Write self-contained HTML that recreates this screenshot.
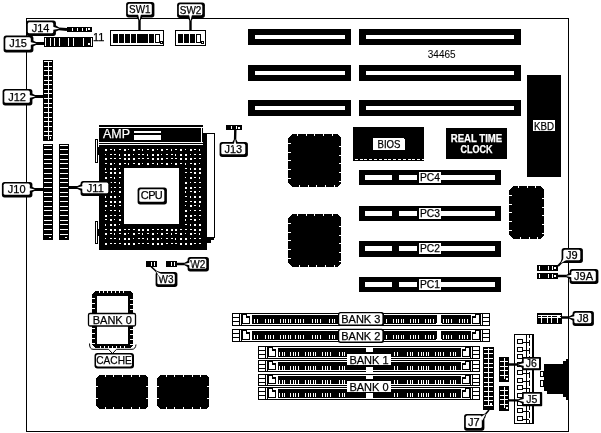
<!DOCTYPE html>
<html><head><meta charset="utf-8"><title>Motherboard layout</title>
<style>
html,body{margin:0;padding:0;background:#fff;}
body{width:601px;height:433px;overflow:hidden;}
svg{display:block;font-family:"Liberation Sans",sans-serif;will-change:transform;}
svg rect,svg polygon,svg line{shape-rendering:crispEdges;}
svg .aa rect,svg .aa polygon,svg .aa line,svg .aa path{shape-rendering:auto;}
</style></head>
<body>
<svg width="601" height="433" viewBox="0 0 601 433">
<rect x="0" y="0" width="601" height="433" fill="#fff"/>
<rect x="26.5" y="18.5" width="542" height="413" fill="none" stroke="#000" stroke-width="1"/>
<rect x="67" y="27" width="25" height="5" fill="#000"/>
<rect x="72" y="28" width="1" height="3" fill="#fff"/>
<rect x="77" y="28" width="1" height="3" fill="#fff"/>
<rect x="82" y="28" width="1" height="3" fill="#fff"/>
<rect x="86" y="28" width="1" height="3" fill="#fff"/>
<rect x="88" y="28" width="2" height="2" fill="#fff"/>
<rect x="44" y="37" width="49" height="10" fill="#000"/>
<rect x="45" y="38" width="1" height="8" fill="#fff"/>
<rect x="91" y="38" width="1" height="8" fill="#fff"/>
<rect x="50" y="38" width="1" height="8" fill="#fff"/>
<rect x="54" y="38" width="1" height="8" fill="#fff"/>
<rect x="59" y="38" width="1" height="8" fill="#fff"/>
<rect x="68" y="38" width="1" height="8" fill="#fff"/>
<rect x="73" y="38" width="1" height="8" fill="#fff"/>
<rect x="83" y="38" width="1" height="8" fill="#fff"/>
<rect x="88" y="43" width="2" height="2" fill="#fff"/>
<text x="93" y="41" font-size="11" text-anchor="start" fill="#000" stroke="#000" stroke-width="0.25" font-weight="normal" >11</text>
<rect x="43" y="60" width="10" height="81" fill="#000"/>
<rect x="44" y="61" width="8" height="1" fill="#fff"/>
<rect x="44" y="66" width="8" height="1" fill="#fff"/>
<rect x="44" y="70" width="8" height="1" fill="#fff"/>
<rect x="44" y="75" width="8" height="1" fill="#fff"/>
<rect x="44" y="80" width="8" height="1" fill="#fff"/>
<rect x="44" y="84" width="8" height="1" fill="#fff"/>
<rect x="44" y="89" width="8" height="1" fill="#fff"/>
<rect x="44" y="93" width="8" height="1" fill="#fff"/>
<rect x="44" y="98" width="8" height="1" fill="#fff"/>
<rect x="44" y="103" width="8" height="1" fill="#fff"/>
<rect x="44" y="107" width="8" height="1" fill="#fff"/>
<rect x="44" y="112" width="8" height="1" fill="#fff"/>
<rect x="44" y="117" width="8" height="1" fill="#fff"/>
<rect x="44" y="121" width="8" height="1" fill="#fff"/>
<rect x="44" y="126" width="8" height="1" fill="#fff"/>
<rect x="44" y="131" width="8" height="1" fill="#fff"/>
<rect x="44" y="135" width="8" height="1" fill="#fff"/>
<rect x="48" y="61" width="1" height="79" fill="#fff"/>
<rect x="50" y="137" width="1" height="2" fill="#fff"/>
<rect x="43" y="144" width="10" height="96" fill="#000"/>
<rect x="44" y="145" width="8" height="1" fill="#fff"/>
<rect x="44" y="149" width="8" height="1" fill="#fff"/>
<rect x="44" y="154" width="8" height="1" fill="#fff"/>
<rect x="44" y="159" width="8" height="1" fill="#fff"/>
<rect x="44" y="163" width="8" height="1" fill="#fff"/>
<rect x="44" y="168" width="8" height="1" fill="#fff"/>
<rect x="44" y="173" width="8" height="1" fill="#fff"/>
<rect x="44" y="178" width="8" height="1" fill="#fff"/>
<rect x="44" y="182" width="8" height="1" fill="#fff"/>
<rect x="44" y="187" width="8" height="1" fill="#fff"/>
<rect x="44" y="192" width="8" height="1" fill="#fff"/>
<rect x="44" y="196" width="8" height="1" fill="#fff"/>
<rect x="44" y="201" width="8" height="1" fill="#fff"/>
<rect x="44" y="206" width="8" height="1" fill="#fff"/>
<rect x="44" y="210" width="8" height="1" fill="#fff"/>
<rect x="44" y="215" width="8" height="1" fill="#fff"/>
<rect x="44" y="220" width="8" height="1" fill="#fff"/>
<rect x="44" y="224" width="8" height="1" fill="#fff"/>
<rect x="44" y="229" width="8" height="1" fill="#fff"/>
<rect x="44" y="234" width="8" height="1" fill="#fff"/>
<rect x="49" y="237" width="2" height="1" fill="#fff"/>
<rect x="59" y="144" width="10" height="96" fill="#000"/>
<rect x="60" y="145" width="8" height="1" fill="#fff"/>
<rect x="60" y="149" width="8" height="1" fill="#fff"/>
<rect x="60" y="154" width="8" height="1" fill="#fff"/>
<rect x="60" y="159" width="8" height="1" fill="#fff"/>
<rect x="60" y="163" width="8" height="1" fill="#fff"/>
<rect x="60" y="168" width="8" height="1" fill="#fff"/>
<rect x="60" y="173" width="8" height="1" fill="#fff"/>
<rect x="60" y="178" width="8" height="1" fill="#fff"/>
<rect x="60" y="182" width="8" height="1" fill="#fff"/>
<rect x="60" y="187" width="8" height="1" fill="#fff"/>
<rect x="60" y="192" width="8" height="1" fill="#fff"/>
<rect x="60" y="196" width="8" height="1" fill="#fff"/>
<rect x="60" y="201" width="8" height="1" fill="#fff"/>
<rect x="60" y="206" width="8" height="1" fill="#fff"/>
<rect x="60" y="210" width="8" height="1" fill="#fff"/>
<rect x="60" y="215" width="8" height="1" fill="#fff"/>
<rect x="60" y="220" width="8" height="1" fill="#fff"/>
<rect x="60" y="224" width="8" height="1" fill="#fff"/>
<rect x="60" y="229" width="8" height="1" fill="#fff"/>
<rect x="60" y="234" width="8" height="1" fill="#fff"/>
<rect x="65" y="237" width="2" height="1" fill="#fff"/>
<rect x="110.5" y="30.5" width="53" height="15" fill="#fff" stroke="#000" stroke-width="1"/>
<rect x="113" y="34" width="5" height="9" fill="#000"/>
<rect x="119" y="34" width="5" height="9" fill="#000"/>
<rect x="125" y="34" width="5" height="9" fill="#000"/>
<rect x="131" y="34" width="5" height="9" fill="#000"/>
<rect x="137" y="34" width="5" height="9" fill="#000"/>
<rect x="143" y="34" width="5" height="9" fill="#000"/>
<rect x="149" y="34" width="5" height="9" fill="#000"/>
<rect x="137" y="34" width="11" height="9" fill="#000"/>
<rect x="155.5" y="34.5" width="4" height="8" fill="#fff" stroke="#000" stroke-width="1"/>
<rect x="160.5" y="41.5" width="2" height="2" fill="#fff" stroke="#000" stroke-width="1"/>
<rect x="175.5" y="30.5" width="30" height="15" fill="#fff" stroke="#000" stroke-width="1"/>
<rect x="178" y="34" width="5" height="9" fill="#000"/>
<rect x="184" y="34" width="5" height="9" fill="#000"/>
<rect x="190" y="34" width="5" height="9" fill="#000"/>
<rect x="196.5" y="34.5" width="4" height="8" fill="#fff" stroke="#000" stroke-width="1"/>
<rect x="201.5" y="41.5" width="2" height="2" fill="#fff" stroke="#000" stroke-width="1"/>
<rect x="248" y="29" width="103" height="16" fill="#000"/>
<rect x="255" y="35" width="90" height="4" fill="#fff"/>
<rect x="359" y="29" width="162" height="16" fill="#000"/>
<rect x="366" y="35" width="148" height="4" fill="#fff"/>
<rect x="248" y="65" width="103" height="16" fill="#000"/>
<rect x="255" y="71" width="90" height="4" fill="#fff"/>
<rect x="359" y="65" width="162" height="16" fill="#000"/>
<rect x="366" y="71" width="148" height="4" fill="#fff"/>
<rect x="248" y="100" width="103" height="16" fill="#000"/>
<rect x="255" y="106" width="90" height="4" fill="#fff"/>
<rect x="359" y="100" width="162" height="16" fill="#000"/>
<rect x="366" y="106" width="148" height="4" fill="#fff"/>
<text x="427.8" y="58" font-size="10" text-anchor="start" fill="#000" stroke="#000" stroke-width="0.05" font-weight="normal" >34465</text>
<rect x="99" y="125" width="104" height="2" fill="#000"/>
<rect x="99" y="128" width="104" height="14" fill="#000"/>
<rect x="99" y="143" width="105" height="1" fill="#000"/>
<rect x="99" y="145" width="108" height="105" fill="#000"/>
<rect x="124" y="168" width="55" height="56" fill="#fff"/>
<rect x="105" y="149" width="2" height="2" fill="#fff"/>
<rect x="105" y="154" width="1" height="1" fill="#fff"/>
<rect x="105" y="158" width="2" height="2" fill="#fff"/>
<rect x="105" y="163" width="2" height="1" fill="#fff"/>
<rect x="105" y="168" width="1" height="2" fill="#fff"/>
<rect x="105" y="172" width="2" height="1" fill="#fff"/>
<rect x="105" y="177" width="2" height="2" fill="#fff"/>
<rect x="105" y="182" width="1" height="1" fill="#fff"/>
<rect x="105" y="187" width="2" height="2" fill="#fff"/>
<rect x="105" y="191" width="2" height="1" fill="#fff"/>
<rect x="105" y="196" width="1" height="2" fill="#fff"/>
<rect x="105" y="201" width="2" height="1" fill="#fff"/>
<rect x="105" y="205" width="2" height="2" fill="#fff"/>
<rect x="105" y="210" width="1" height="1" fill="#fff"/>
<rect x="105" y="215" width="2" height="2" fill="#fff"/>
<rect x="105" y="219" width="2" height="1" fill="#fff"/>
<rect x="105" y="224" width="1" height="2" fill="#fff"/>
<rect x="105" y="229" width="2" height="1" fill="#fff"/>
<rect x="105" y="233" width="2" height="2" fill="#fff"/>
<rect x="105" y="238" width="1" height="1" fill="#fff"/>
<rect x="105" y="243" width="2" height="2" fill="#fff"/>
<rect x="110" y="149" width="2" height="1" fill="#fff"/>
<rect x="110" y="154" width="2" height="1" fill="#fff"/>
<rect x="110" y="158" width="2" height="1" fill="#fff"/>
<rect x="110" y="163" width="2" height="2" fill="#fff"/>
<rect x="110" y="168" width="2" height="2" fill="#fff"/>
<rect x="110" y="172" width="2" height="2" fill="#fff"/>
<rect x="110" y="177" width="2" height="1" fill="#fff"/>
<rect x="110" y="182" width="2" height="1" fill="#fff"/>
<rect x="110" y="187" width="2" height="1" fill="#fff"/>
<rect x="110" y="191" width="2" height="2" fill="#fff"/>
<rect x="110" y="196" width="2" height="2" fill="#fff"/>
<rect x="110" y="201" width="2" height="2" fill="#fff"/>
<rect x="110" y="205" width="2" height="1" fill="#fff"/>
<rect x="110" y="210" width="2" height="1" fill="#fff"/>
<rect x="110" y="215" width="2" height="1" fill="#fff"/>
<rect x="110" y="219" width="2" height="2" fill="#fff"/>
<rect x="110" y="224" width="2" height="2" fill="#fff"/>
<rect x="110" y="229" width="2" height="2" fill="#fff"/>
<rect x="110" y="233" width="2" height="1" fill="#fff"/>
<rect x="110" y="238" width="2" height="1" fill="#fff"/>
<rect x="110" y="243" width="2" height="1" fill="#fff"/>
<rect x="114" y="149" width="1" height="2" fill="#fff"/>
<rect x="114" y="154" width="2" height="1" fill="#fff"/>
<rect x="114" y="158" width="2" height="1" fill="#fff"/>
<rect x="114" y="163" width="1" height="1" fill="#fff"/>
<rect x="114" y="168" width="2" height="2" fill="#fff"/>
<rect x="114" y="172" width="2" height="2" fill="#fff"/>
<rect x="114" y="177" width="1" height="2" fill="#fff"/>
<rect x="114" y="182" width="2" height="1" fill="#fff"/>
<rect x="114" y="187" width="2" height="1" fill="#fff"/>
<rect x="114" y="191" width="1" height="1" fill="#fff"/>
<rect x="114" y="196" width="2" height="2" fill="#fff"/>
<rect x="114" y="201" width="2" height="2" fill="#fff"/>
<rect x="114" y="205" width="1" height="2" fill="#fff"/>
<rect x="114" y="210" width="2" height="1" fill="#fff"/>
<rect x="114" y="215" width="2" height="1" fill="#fff"/>
<rect x="114" y="219" width="1" height="1" fill="#fff"/>
<rect x="114" y="224" width="2" height="2" fill="#fff"/>
<rect x="114" y="229" width="2" height="2" fill="#fff"/>
<rect x="114" y="233" width="1" height="2" fill="#fff"/>
<rect x="114" y="238" width="2" height="1" fill="#fff"/>
<rect x="114" y="243" width="2" height="1" fill="#fff"/>
<rect x="119" y="149" width="2" height="1" fill="#fff"/>
<rect x="119" y="154" width="1" height="2" fill="#fff"/>
<rect x="119" y="158" width="2" height="1" fill="#fff"/>
<rect x="119" y="163" width="2" height="2" fill="#fff"/>
<rect x="119" y="168" width="1" height="1" fill="#fff"/>
<rect x="119" y="172" width="2" height="2" fill="#fff"/>
<rect x="119" y="177" width="2" height="1" fill="#fff"/>
<rect x="119" y="182" width="1" height="2" fill="#fff"/>
<rect x="119" y="187" width="2" height="1" fill="#fff"/>
<rect x="119" y="191" width="2" height="2" fill="#fff"/>
<rect x="119" y="196" width="1" height="1" fill="#fff"/>
<rect x="119" y="201" width="2" height="2" fill="#fff"/>
<rect x="119" y="205" width="2" height="1" fill="#fff"/>
<rect x="119" y="210" width="1" height="2" fill="#fff"/>
<rect x="119" y="215" width="2" height="1" fill="#fff"/>
<rect x="119" y="219" width="2" height="2" fill="#fff"/>
<rect x="119" y="224" width="1" height="1" fill="#fff"/>
<rect x="119" y="229" width="2" height="2" fill="#fff"/>
<rect x="119" y="233" width="2" height="1" fill="#fff"/>
<rect x="119" y="238" width="1" height="2" fill="#fff"/>
<rect x="119" y="243" width="2" height="1" fill="#fff"/>
<rect x="124" y="149" width="2" height="2" fill="#fff"/>
<rect x="124" y="154" width="2" height="2" fill="#fff"/>
<rect x="124" y="158" width="2" height="2" fill="#fff"/>
<rect x="124" y="163" width="2" height="1" fill="#fff"/>
<rect x="124" y="229" width="2" height="1" fill="#fff"/>
<rect x="124" y="233" width="2" height="2" fill="#fff"/>
<rect x="124" y="238" width="2" height="2" fill="#fff"/>
<rect x="124" y="243" width="2" height="2" fill="#fff"/>
<rect x="128" y="149" width="1" height="1" fill="#fff"/>
<rect x="128" y="154" width="2" height="2" fill="#fff"/>
<rect x="128" y="158" width="2" height="2" fill="#fff"/>
<rect x="128" y="163" width="1" height="2" fill="#fff"/>
<rect x="128" y="229" width="2" height="1" fill="#fff"/>
<rect x="128" y="233" width="1" height="1" fill="#fff"/>
<rect x="128" y="238" width="2" height="2" fill="#fff"/>
<rect x="128" y="243" width="2" height="2" fill="#fff"/>
<rect x="133" y="149" width="2" height="2" fill="#fff"/>
<rect x="133" y="154" width="1" height="1" fill="#fff"/>
<rect x="133" y="158" width="2" height="2" fill="#fff"/>
<rect x="133" y="163" width="2" height="1" fill="#fff"/>
<rect x="133" y="229" width="2" height="1" fill="#fff"/>
<rect x="133" y="233" width="2" height="2" fill="#fff"/>
<rect x="133" y="238" width="1" height="1" fill="#fff"/>
<rect x="133" y="243" width="2" height="2" fill="#fff"/>
<rect x="138" y="149" width="2" height="1" fill="#fff"/>
<rect x="138" y="154" width="2" height="1" fill="#fff"/>
<rect x="138" y="158" width="2" height="1" fill="#fff"/>
<rect x="138" y="163" width="2" height="2" fill="#fff"/>
<rect x="138" y="229" width="2" height="2" fill="#fff"/>
<rect x="138" y="233" width="2" height="1" fill="#fff"/>
<rect x="138" y="238" width="2" height="1" fill="#fff"/>
<rect x="138" y="243" width="2" height="1" fill="#fff"/>
<rect x="142" y="149" width="1" height="2" fill="#fff"/>
<rect x="142" y="154" width="2" height="1" fill="#fff"/>
<rect x="142" y="158" width="2" height="1" fill="#fff"/>
<rect x="142" y="163" width="1" height="1" fill="#fff"/>
<rect x="142" y="229" width="2" height="2" fill="#fff"/>
<rect x="142" y="233" width="1" height="2" fill="#fff"/>
<rect x="142" y="238" width="2" height="1" fill="#fff"/>
<rect x="142" y="243" width="2" height="1" fill="#fff"/>
<rect x="147" y="149" width="2" height="1" fill="#fff"/>
<rect x="147" y="154" width="1" height="2" fill="#fff"/>
<rect x="147" y="158" width="2" height="1" fill="#fff"/>
<rect x="147" y="163" width="2" height="2" fill="#fff"/>
<rect x="147" y="229" width="2" height="2" fill="#fff"/>
<rect x="147" y="233" width="2" height="1" fill="#fff"/>
<rect x="147" y="238" width="1" height="2" fill="#fff"/>
<rect x="147" y="243" width="2" height="1" fill="#fff"/>
<rect x="152" y="149" width="2" height="2" fill="#fff"/>
<rect x="152" y="154" width="2" height="2" fill="#fff"/>
<rect x="152" y="158" width="2" height="2" fill="#fff"/>
<rect x="152" y="163" width="2" height="1" fill="#fff"/>
<rect x="152" y="229" width="2" height="1" fill="#fff"/>
<rect x="152" y="233" width="2" height="2" fill="#fff"/>
<rect x="152" y="238" width="2" height="2" fill="#fff"/>
<rect x="152" y="243" width="2" height="2" fill="#fff"/>
<rect x="157" y="149" width="1" height="1" fill="#fff"/>
<rect x="157" y="154" width="2" height="2" fill="#fff"/>
<rect x="157" y="158" width="2" height="2" fill="#fff"/>
<rect x="157" y="163" width="1" height="2" fill="#fff"/>
<rect x="157" y="229" width="2" height="1" fill="#fff"/>
<rect x="157" y="233" width="1" height="1" fill="#fff"/>
<rect x="157" y="238" width="2" height="2" fill="#fff"/>
<rect x="157" y="243" width="2" height="2" fill="#fff"/>
<rect x="161" y="149" width="2" height="2" fill="#fff"/>
<rect x="161" y="154" width="1" height="1" fill="#fff"/>
<rect x="161" y="158" width="2" height="2" fill="#fff"/>
<rect x="161" y="163" width="2" height="1" fill="#fff"/>
<rect x="161" y="229" width="2" height="1" fill="#fff"/>
<rect x="161" y="233" width="2" height="2" fill="#fff"/>
<rect x="161" y="238" width="1" height="1" fill="#fff"/>
<rect x="161" y="243" width="2" height="2" fill="#fff"/>
<rect x="166" y="149" width="2" height="1" fill="#fff"/>
<rect x="166" y="154" width="2" height="1" fill="#fff"/>
<rect x="166" y="158" width="2" height="1" fill="#fff"/>
<rect x="166" y="163" width="2" height="2" fill="#fff"/>
<rect x="166" y="229" width="2" height="2" fill="#fff"/>
<rect x="166" y="233" width="2" height="1" fill="#fff"/>
<rect x="166" y="238" width="2" height="1" fill="#fff"/>
<rect x="166" y="243" width="2" height="1" fill="#fff"/>
<rect x="171" y="149" width="1" height="2" fill="#fff"/>
<rect x="171" y="154" width="2" height="1" fill="#fff"/>
<rect x="171" y="158" width="2" height="1" fill="#fff"/>
<rect x="171" y="163" width="1" height="1" fill="#fff"/>
<rect x="171" y="229" width="2" height="2" fill="#fff"/>
<rect x="171" y="233" width="1" height="2" fill="#fff"/>
<rect x="171" y="238" width="2" height="1" fill="#fff"/>
<rect x="171" y="243" width="2" height="1" fill="#fff"/>
<rect x="175" y="149" width="2" height="1" fill="#fff"/>
<rect x="175" y="154" width="1" height="2" fill="#fff"/>
<rect x="175" y="158" width="2" height="1" fill="#fff"/>
<rect x="175" y="163" width="2" height="2" fill="#fff"/>
<rect x="175" y="229" width="2" height="2" fill="#fff"/>
<rect x="175" y="233" width="2" height="1" fill="#fff"/>
<rect x="175" y="238" width="1" height="2" fill="#fff"/>
<rect x="175" y="243" width="2" height="1" fill="#fff"/>
<rect x="180" y="149" width="2" height="2" fill="#fff"/>
<rect x="180" y="154" width="2" height="2" fill="#fff"/>
<rect x="180" y="158" width="2" height="2" fill="#fff"/>
<rect x="180" y="163" width="2" height="1" fill="#fff"/>
<rect x="180" y="229" width="2" height="1" fill="#fff"/>
<rect x="180" y="233" width="2" height="2" fill="#fff"/>
<rect x="180" y="238" width="2" height="2" fill="#fff"/>
<rect x="180" y="243" width="2" height="2" fill="#fff"/>
<rect x="185" y="149" width="1" height="1" fill="#fff"/>
<rect x="185" y="154" width="2" height="2" fill="#fff"/>
<rect x="185" y="158" width="2" height="2" fill="#fff"/>
<rect x="185" y="163" width="1" height="2" fill="#fff"/>
<rect x="185" y="168" width="2" height="1" fill="#fff"/>
<rect x="185" y="172" width="2" height="1" fill="#fff"/>
<rect x="185" y="177" width="1" height="1" fill="#fff"/>
<rect x="185" y="182" width="2" height="2" fill="#fff"/>
<rect x="185" y="187" width="2" height="2" fill="#fff"/>
<rect x="185" y="191" width="1" height="2" fill="#fff"/>
<rect x="185" y="196" width="2" height="1" fill="#fff"/>
<rect x="185" y="201" width="2" height="1" fill="#fff"/>
<rect x="185" y="205" width="1" height="1" fill="#fff"/>
<rect x="185" y="210" width="2" height="2" fill="#fff"/>
<rect x="185" y="215" width="2" height="2" fill="#fff"/>
<rect x="185" y="219" width="1" height="2" fill="#fff"/>
<rect x="185" y="224" width="2" height="1" fill="#fff"/>
<rect x="185" y="229" width="2" height="1" fill="#fff"/>
<rect x="185" y="233" width="1" height="1" fill="#fff"/>
<rect x="185" y="238" width="2" height="2" fill="#fff"/>
<rect x="185" y="243" width="2" height="2" fill="#fff"/>
<rect x="190" y="149" width="2" height="2" fill="#fff"/>
<rect x="190" y="154" width="1" height="1" fill="#fff"/>
<rect x="190" y="158" width="2" height="2" fill="#fff"/>
<rect x="190" y="163" width="2" height="1" fill="#fff"/>
<rect x="190" y="168" width="1" height="2" fill="#fff"/>
<rect x="190" y="172" width="2" height="1" fill="#fff"/>
<rect x="190" y="177" width="2" height="2" fill="#fff"/>
<rect x="190" y="182" width="1" height="1" fill="#fff"/>
<rect x="190" y="187" width="2" height="2" fill="#fff"/>
<rect x="190" y="191" width="2" height="1" fill="#fff"/>
<rect x="190" y="196" width="1" height="2" fill="#fff"/>
<rect x="190" y="201" width="2" height="1" fill="#fff"/>
<rect x="190" y="205" width="2" height="2" fill="#fff"/>
<rect x="190" y="210" width="1" height="1" fill="#fff"/>
<rect x="190" y="215" width="2" height="2" fill="#fff"/>
<rect x="190" y="219" width="2" height="1" fill="#fff"/>
<rect x="190" y="224" width="1" height="2" fill="#fff"/>
<rect x="190" y="229" width="2" height="1" fill="#fff"/>
<rect x="190" y="233" width="2" height="2" fill="#fff"/>
<rect x="190" y="238" width="1" height="1" fill="#fff"/>
<rect x="190" y="243" width="2" height="2" fill="#fff"/>
<rect x="194" y="149" width="2" height="1" fill="#fff"/>
<rect x="194" y="154" width="2" height="1" fill="#fff"/>
<rect x="194" y="158" width="2" height="1" fill="#fff"/>
<rect x="194" y="163" width="2" height="2" fill="#fff"/>
<rect x="194" y="168" width="2" height="2" fill="#fff"/>
<rect x="194" y="172" width="2" height="2" fill="#fff"/>
<rect x="194" y="177" width="2" height="1" fill="#fff"/>
<rect x="194" y="182" width="2" height="1" fill="#fff"/>
<rect x="194" y="187" width="2" height="1" fill="#fff"/>
<rect x="194" y="191" width="2" height="2" fill="#fff"/>
<rect x="194" y="196" width="2" height="2" fill="#fff"/>
<rect x="194" y="201" width="2" height="2" fill="#fff"/>
<rect x="194" y="205" width="2" height="1" fill="#fff"/>
<rect x="194" y="210" width="2" height="1" fill="#fff"/>
<rect x="194" y="215" width="2" height="1" fill="#fff"/>
<rect x="194" y="219" width="2" height="2" fill="#fff"/>
<rect x="194" y="224" width="2" height="2" fill="#fff"/>
<rect x="194" y="229" width="2" height="2" fill="#fff"/>
<rect x="194" y="233" width="2" height="1" fill="#fff"/>
<rect x="194" y="238" width="2" height="1" fill="#fff"/>
<rect x="194" y="243" width="2" height="1" fill="#fff"/>
<rect x="199" y="149" width="1" height="2" fill="#fff"/>
<rect x="199" y="154" width="2" height="1" fill="#fff"/>
<rect x="199" y="158" width="2" height="1" fill="#fff"/>
<rect x="199" y="163" width="1" height="1" fill="#fff"/>
<rect x="199" y="168" width="2" height="2" fill="#fff"/>
<rect x="199" y="172" width="2" height="2" fill="#fff"/>
<rect x="199" y="177" width="1" height="2" fill="#fff"/>
<rect x="199" y="182" width="2" height="1" fill="#fff"/>
<rect x="199" y="187" width="2" height="1" fill="#fff"/>
<rect x="199" y="191" width="1" height="1" fill="#fff"/>
<rect x="199" y="196" width="2" height="2" fill="#fff"/>
<rect x="199" y="201" width="2" height="2" fill="#fff"/>
<rect x="199" y="205" width="1" height="2" fill="#fff"/>
<rect x="199" y="210" width="2" height="1" fill="#fff"/>
<rect x="199" y="215" width="2" height="1" fill="#fff"/>
<rect x="199" y="219" width="1" height="1" fill="#fff"/>
<rect x="199" y="224" width="2" height="2" fill="#fff"/>
<rect x="199" y="229" width="2" height="2" fill="#fff"/>
<rect x="199" y="233" width="1" height="2" fill="#fff"/>
<rect x="199" y="238" width="2" height="1" fill="#fff"/>
<rect x="199" y="243" width="2" height="1" fill="#fff"/>
<text x="103" y="137.5" font-size="12.5" text-anchor="start" fill="#fff" stroke="#fff" stroke-width="0.25" font-weight="normal" textLength="27" lengthAdjust="spacingAndGlyphs">AMP</text>
<rect x="134" y="131" width="27" height="2" fill="#fff"/>
<rect x="134" y="135" width="27" height="5" fill="#fff"/>
<rect x="95.5" y="139.5" width="2" height="23" fill="#fff" stroke="#000" stroke-width="1"/>
<rect x="98" y="147" width="1" height="8" fill="#000"/>
<rect x="95.5" y="221.5" width="2" height="22" fill="#fff" stroke="#000" stroke-width="1"/>
<rect x="98" y="229" width="1" height="7" fill="#000"/>
<rect x="203" y="133" width="4" height="13" fill="#000"/>
<rect x="206.5" y="133.5" width="8" height="104" fill="#fff" stroke="#000" stroke-width="1"/>
<polygon points="207,238 214,238 214,240 211,240 211,243 207,243" fill="#000" />
<rect x="201" y="128" width="1" height="14" fill="#fff"/>
<rect x="226" y="125" width="16" height="5" fill="#000"/>
<rect x="231" y="126" width="1" height="3" fill="#fff"/>
<rect x="236" y="126" width="1" height="3" fill="#fff"/>
<rect x="238" y="127" width="2" height="2" fill="#fff"/>
<polygon points="292,134 337,134 341,138 341,183 337,187 292,187 288,183 288,138" fill="#000" />
<rect x="297" y="134" width="1" height="2" fill="#fff"/>
<rect x="299" y="185" width="1" height="2" fill="#fff"/>
<rect x="306" y="134" width="1" height="2" fill="#fff"/>
<rect x="308" y="185" width="1" height="2" fill="#fff"/>
<rect x="314" y="134" width="1" height="2" fill="#fff"/>
<rect x="316" y="185" width="1" height="2" fill="#fff"/>
<rect x="323" y="134" width="1" height="2" fill="#fff"/>
<rect x="325" y="185" width="1" height="2" fill="#fff"/>
<rect x="332" y="134" width="1" height="2" fill="#fff"/>
<rect x="334" y="185" width="1" height="2" fill="#fff"/>
<rect x="288" y="143" width="3" height="1" fill="#fff"/>
<rect x="339" y="146" width="2" height="1" fill="#fff"/>
<rect x="288" y="152" width="3" height="1" fill="#fff"/>
<rect x="339" y="155" width="2" height="1" fill="#fff"/>
<rect x="288" y="160" width="3" height="1" fill="#fff"/>
<rect x="339" y="163" width="2" height="1" fill="#fff"/>
<rect x="288" y="169" width="3" height="1" fill="#fff"/>
<rect x="339" y="172" width="2" height="1" fill="#fff"/>
<rect x="288" y="178" width="3" height="1" fill="#fff"/>
<rect x="339" y="181" width="2" height="1" fill="#fff"/>
<polygon points="292,214 337,214 341,218 341,263 337,267 292,267 288,263 288,218" fill="#000" />
<rect x="297" y="214" width="1" height="2" fill="#fff"/>
<rect x="299" y="265" width="1" height="2" fill="#fff"/>
<rect x="306" y="214" width="1" height="2" fill="#fff"/>
<rect x="308" y="265" width="1" height="2" fill="#fff"/>
<rect x="314" y="214" width="1" height="2" fill="#fff"/>
<rect x="316" y="265" width="1" height="2" fill="#fff"/>
<rect x="323" y="214" width="1" height="2" fill="#fff"/>
<rect x="325" y="265" width="1" height="2" fill="#fff"/>
<rect x="332" y="214" width="1" height="2" fill="#fff"/>
<rect x="334" y="265" width="1" height="2" fill="#fff"/>
<rect x="288" y="223" width="3" height="1" fill="#fff"/>
<rect x="339" y="226" width="2" height="1" fill="#fff"/>
<rect x="288" y="232" width="3" height="1" fill="#fff"/>
<rect x="339" y="235" width="2" height="1" fill="#fff"/>
<rect x="288" y="240" width="3" height="1" fill="#fff"/>
<rect x="339" y="243" width="2" height="1" fill="#fff"/>
<rect x="288" y="249" width="3" height="1" fill="#fff"/>
<rect x="339" y="252" width="2" height="1" fill="#fff"/>
<rect x="288" y="258" width="3" height="1" fill="#fff"/>
<rect x="339" y="261" width="2" height="1" fill="#fff"/>
<polygon points="513,186 540,186 544,190 544,235 540,239 513,239 509,235 509,190" fill="#000" />
<rect x="518" y="186" width="1" height="2" fill="#fff"/>
<rect x="520" y="237" width="1" height="2" fill="#fff"/>
<rect x="527" y="186" width="1" height="2" fill="#fff"/>
<rect x="529" y="237" width="1" height="2" fill="#fff"/>
<rect x="535" y="186" width="1" height="2" fill="#fff"/>
<rect x="537" y="237" width="1" height="2" fill="#fff"/>
<rect x="509" y="195" width="3" height="1" fill="#fff"/>
<rect x="542" y="198" width="2" height="1" fill="#fff"/>
<rect x="509" y="204" width="3" height="1" fill="#fff"/>
<rect x="542" y="207" width="2" height="1" fill="#fff"/>
<rect x="509" y="212" width="3" height="1" fill="#fff"/>
<rect x="542" y="215" width="2" height="1" fill="#fff"/>
<rect x="509" y="221" width="3" height="1" fill="#fff"/>
<rect x="542" y="224" width="2" height="1" fill="#fff"/>
<rect x="509" y="230" width="3" height="1" fill="#fff"/>
<rect x="542" y="233" width="2" height="1" fill="#fff"/>
<rect x="353" y="127" width="71" height="34" fill="#000"/>
<rect x="355" y="159" width="3" height="1" fill="#fff"/>
<rect x="360" y="159" width="3" height="1" fill="#fff"/>
<rect x="364" y="159" width="3" height="1" fill="#fff"/>
<rect x="369" y="159" width="3" height="1" fill="#fff"/>
<rect x="374" y="159" width="3" height="1" fill="#fff"/>
<rect x="379" y="159" width="3" height="1" fill="#fff"/>
<rect x="384" y="159" width="3" height="1" fill="#fff"/>
<rect x="388" y="159" width="3" height="1" fill="#fff"/>
<rect x="393" y="159" width="3" height="1" fill="#fff"/>
<rect x="398" y="159" width="3" height="1" fill="#fff"/>
<rect x="403" y="159" width="3" height="1" fill="#fff"/>
<rect x="408" y="159" width="3" height="1" fill="#fff"/>
<rect x="412" y="159" width="3" height="1" fill="#fff"/>
<rect x="417" y="159" width="3" height="1" fill="#fff"/>
<rect x="422" y="159" width="3" height="1" fill="#fff"/>
<polygon points="373,138 403,138 405,140 405,150 373,150" fill="#fff" />
<text x="389" y="148.2" font-size="11.5" text-anchor="middle" fill="#000" stroke="#000" stroke-width="0.25" font-weight="normal" textLength="23" lengthAdjust="spacingAndGlyphs">BIOS</text>
<rect x="446" y="128" width="61" height="31" fill="#000"/>
<text x="476.5" y="141.7" font-size="10" text-anchor="middle" fill="#fff" stroke="#fff" stroke-width="0.25" font-weight="bold" textLength="51.5" lengthAdjust="spacingAndGlyphs">REAL TIME</text>
<text x="476.5" y="153" font-size="10" text-anchor="middle" fill="#fff" stroke="#fff" stroke-width="0.25" font-weight="bold" textLength="32" lengthAdjust="spacingAndGlyphs">CLOCK</text>
<rect x="527" y="75" width="34" height="102" fill="#000"/>
<rect x="533" y="120" width="22" height="11" fill="#fff"/>
<text x="544" y="129.5" font-size="11" text-anchor="middle" fill="#000" stroke="#000" stroke-width="0.25" font-weight="normal" textLength="20" lengthAdjust="spacingAndGlyphs">KBD</text>
<rect x="359" y="170" width="142" height="15" fill="#000"/>
<rect x="365" y="175" width="27" height="5" fill="#fff"/>
<rect x="399" y="175" width="18" height="5" fill="#fff"/>
<rect x="441" y="175" width="54" height="5" fill="#fff"/>
<rect x="419" y="172" width="22" height="11" fill="#fff"/>
<text x="430" y="181" font-size="11" text-anchor="middle" fill="#000" stroke="#000" stroke-width="0.25" font-weight="normal" textLength="20" lengthAdjust="spacingAndGlyphs">PC4</text>
<rect x="359" y="206" width="142" height="15" fill="#000"/>
<rect x="365" y="211" width="27" height="5" fill="#fff"/>
<rect x="399" y="211" width="18" height="5" fill="#fff"/>
<rect x="441" y="211" width="54" height="5" fill="#fff"/>
<rect x="419" y="208" width="22" height="11" fill="#fff"/>
<text x="430" y="217" font-size="11" text-anchor="middle" fill="#000" stroke="#000" stroke-width="0.25" font-weight="normal" textLength="20" lengthAdjust="spacingAndGlyphs">PC3</text>
<rect x="359" y="241" width="142" height="16" fill="#000"/>
<rect x="365" y="246" width="27" height="5" fill="#fff"/>
<rect x="399" y="246" width="18" height="5" fill="#fff"/>
<rect x="441" y="246" width="54" height="5" fill="#fff"/>
<rect x="419" y="243" width="22" height="11" fill="#fff"/>
<text x="430" y="252" font-size="11" text-anchor="middle" fill="#000" stroke="#000" stroke-width="0.25" font-weight="normal" textLength="20" lengthAdjust="spacingAndGlyphs">PC2</text>
<rect x="359" y="277" width="142" height="15" fill="#000"/>
<rect x="365" y="282" width="27" height="5" fill="#fff"/>
<rect x="399" y="282" width="18" height="5" fill="#fff"/>
<rect x="441" y="282" width="54" height="5" fill="#fff"/>
<rect x="419" y="279" width="22" height="11" fill="#fff"/>
<text x="430" y="288" font-size="11" text-anchor="middle" fill="#000" stroke="#000" stroke-width="0.25" font-weight="normal" textLength="20" lengthAdjust="spacingAndGlyphs">PC1</text>
<rect x="537" y="265" width="21" height="6" fill="#000"/>
<rect x="539" y="266" width="1" height="4" fill="#fff"/>
<rect x="548" y="266" width="1" height="4" fill="#fff"/>
<rect x="552" y="266" width="1" height="4" fill="#fff"/>
<rect x="554" y="267" width="2" height="2" fill="#fff"/>
<rect x="537" y="273" width="21" height="6" fill="#000"/>
<rect x="539" y="274" width="1" height="4" fill="#fff"/>
<rect x="548" y="274" width="1" height="4" fill="#fff"/>
<rect x="552" y="274" width="1" height="4" fill="#fff"/>
<rect x="554" y="275" width="2" height="2" fill="#fff"/>
<rect x="537" y="313" width="25" height="11" fill="#000"/>
<rect x="538" y="315" width="23" height="1" fill="#fff"/>
<rect x="538" y="317" width="23" height="1" fill="#fff"/>
<rect x="541" y="315" width="1" height="8" fill="#fff"/>
<rect x="547" y="315" width="1" height="8" fill="#fff"/>
<rect x="551" y="315" width="1" height="8" fill="#fff"/>
<rect x="557" y="315" width="1" height="8" fill="#fff"/>
<rect x="558" y="316" width="2" height="1" fill="#fff"/>
<rect x="232.5" y="313.5" width="257" height="12" fill="#fff" stroke="#000" stroke-width="1"/>
<rect x="239" y="313" width="1" height="13" fill="#000"/>
<rect x="233" y="317" width="6" height="1" fill="#000"/>
<rect x="233" y="321" width="6" height="1" fill="#000"/>
<rect x="241" y="313" width="1" height="13" fill="#000"/>
<rect x="242" y="314" width="8" height="10" fill="#000"/>
<rect x="243" y="318" width="6" height="5" fill="#fff"/>
<rect x="243" y="315" width="3" height="3" fill="#fff"/>
<rect x="247" y="314" width="3" height="2" fill="#fff"/>
<rect x="252" y="315" width="219" height="9" fill="#000"/>
<rect x="242" y="324" width="238" height="1" fill="#fff"/>
<rect x="472" y="314" width="8" height="10" fill="#000"/>
<rect x="473" y="318" width="6" height="5" fill="#fff"/>
<rect x="476" y="315" width="3" height="3" fill="#fff"/>
<rect x="472" y="314" width="3" height="2" fill="#fff"/>
<rect x="480" y="313" width="1" height="13" fill="#000"/>
<rect x="482" y="313" width="1" height="13" fill="#000"/>
<rect x="483" y="317" width="6" height="1" fill="#000"/>
<rect x="483" y="321" width="6" height="1" fill="#000"/>
<rect x="254" y="319" width="1" height="4" fill="#fff"/>
<rect x="257" y="319" width="1" height="4" fill="#fff"/>
<rect x="265" y="319" width="1" height="4" fill="#fff"/>
<rect x="268" y="319" width="1" height="4" fill="#fff"/>
<rect x="270" y="319" width="1" height="4" fill="#fff"/>
<rect x="273" y="319" width="1" height="4" fill="#fff"/>
<rect x="280" y="319" width="1" height="4" fill="#fff"/>
<rect x="283" y="319" width="1" height="4" fill="#fff"/>
<rect x="285" y="319" width="1" height="4" fill="#fff"/>
<rect x="288" y="319" width="1" height="4" fill="#fff"/>
<rect x="290" y="319" width="1" height="4" fill="#fff"/>
<rect x="295" y="319" width="1" height="4" fill="#fff"/>
<rect x="298" y="319" width="1" height="4" fill="#fff"/>
<rect x="300" y="319" width="1" height="4" fill="#fff"/>
<rect x="303" y="319" width="1" height="4" fill="#fff"/>
<rect x="312" y="319" width="1" height="4" fill="#fff"/>
<rect x="315" y="319" width="1" height="4" fill="#fff"/>
<rect x="317" y="319" width="1" height="4" fill="#fff"/>
<rect x="320" y="319" width="1" height="4" fill="#fff"/>
<rect x="329" y="319" width="1" height="4" fill="#fff"/>
<rect x="332" y="319" width="1" height="4" fill="#fff"/>
<rect x="334" y="319" width="1" height="4" fill="#fff"/>
<rect x="386" y="319" width="1" height="4" fill="#fff"/>
<rect x="393" y="319" width="1" height="4" fill="#fff"/>
<rect x="396" y="319" width="1" height="4" fill="#fff"/>
<rect x="398" y="319" width="1" height="4" fill="#fff"/>
<rect x="401" y="319" width="1" height="4" fill="#fff"/>
<rect x="403" y="319" width="1" height="4" fill="#fff"/>
<rect x="410" y="319" width="1" height="4" fill="#fff"/>
<rect x="413" y="319" width="1" height="4" fill="#fff"/>
<rect x="415" y="319" width="1" height="4" fill="#fff"/>
<rect x="418" y="319" width="1" height="4" fill="#fff"/>
<rect x="425" y="319" width="1" height="4" fill="#fff"/>
<rect x="428" y="319" width="1" height="4" fill="#fff"/>
<rect x="430" y="319" width="1" height="4" fill="#fff"/>
<rect x="433" y="319" width="1" height="4" fill="#fff"/>
<rect x="443" y="319" width="1" height="4" fill="#fff"/>
<rect x="446" y="319" width="1" height="4" fill="#fff"/>
<rect x="448" y="319" width="1" height="4" fill="#fff"/>
<rect x="451" y="319" width="1" height="4" fill="#fff"/>
<rect x="459" y="319" width="1" height="4" fill="#fff"/>
<rect x="462" y="319" width="1" height="4" fill="#fff"/>
<rect x="464" y="319" width="1" height="4" fill="#fff"/>
<rect x="467" y="319" width="1" height="4" fill="#fff"/>
<rect x="437" y="314" width="4" height="10" fill="#fff"/>
<rect x="436" y="323" width="6" height="2" fill="#fff"/>
<rect x="232.5" y="329.5" width="257" height="12" fill="#fff" stroke="#000" stroke-width="1"/>
<rect x="239" y="329" width="1" height="13" fill="#000"/>
<rect x="233" y="333" width="6" height="1" fill="#000"/>
<rect x="233" y="337" width="6" height="1" fill="#000"/>
<rect x="241" y="329" width="1" height="13" fill="#000"/>
<rect x="242" y="330" width="8" height="10" fill="#000"/>
<rect x="243" y="334" width="6" height="5" fill="#fff"/>
<rect x="243" y="331" width="3" height="3" fill="#fff"/>
<rect x="247" y="330" width="3" height="2" fill="#fff"/>
<rect x="252" y="331" width="219" height="9" fill="#000"/>
<rect x="242" y="340" width="238" height="1" fill="#fff"/>
<rect x="472" y="330" width="8" height="10" fill="#000"/>
<rect x="473" y="334" width="6" height="5" fill="#fff"/>
<rect x="476" y="331" width="3" height="3" fill="#fff"/>
<rect x="472" y="330" width="3" height="2" fill="#fff"/>
<rect x="480" y="329" width="1" height="13" fill="#000"/>
<rect x="482" y="329" width="1" height="13" fill="#000"/>
<rect x="483" y="333" width="6" height="1" fill="#000"/>
<rect x="483" y="337" width="6" height="1" fill="#000"/>
<rect x="254" y="335" width="1" height="4" fill="#fff"/>
<rect x="257" y="335" width="1" height="4" fill="#fff"/>
<rect x="265" y="335" width="1" height="4" fill="#fff"/>
<rect x="268" y="335" width="1" height="4" fill="#fff"/>
<rect x="270" y="335" width="1" height="4" fill="#fff"/>
<rect x="273" y="335" width="1" height="4" fill="#fff"/>
<rect x="280" y="335" width="1" height="4" fill="#fff"/>
<rect x="283" y="335" width="1" height="4" fill="#fff"/>
<rect x="285" y="335" width="1" height="4" fill="#fff"/>
<rect x="288" y="335" width="1" height="4" fill="#fff"/>
<rect x="290" y="335" width="1" height="4" fill="#fff"/>
<rect x="295" y="335" width="1" height="4" fill="#fff"/>
<rect x="298" y="335" width="1" height="4" fill="#fff"/>
<rect x="300" y="335" width="1" height="4" fill="#fff"/>
<rect x="303" y="335" width="1" height="4" fill="#fff"/>
<rect x="312" y="335" width="1" height="4" fill="#fff"/>
<rect x="315" y="335" width="1" height="4" fill="#fff"/>
<rect x="317" y="335" width="1" height="4" fill="#fff"/>
<rect x="320" y="335" width="1" height="4" fill="#fff"/>
<rect x="329" y="335" width="1" height="4" fill="#fff"/>
<rect x="332" y="335" width="1" height="4" fill="#fff"/>
<rect x="334" y="335" width="1" height="4" fill="#fff"/>
<rect x="386" y="335" width="1" height="4" fill="#fff"/>
<rect x="393" y="335" width="1" height="4" fill="#fff"/>
<rect x="396" y="335" width="1" height="4" fill="#fff"/>
<rect x="398" y="335" width="1" height="4" fill="#fff"/>
<rect x="401" y="335" width="1" height="4" fill="#fff"/>
<rect x="403" y="335" width="1" height="4" fill="#fff"/>
<rect x="410" y="335" width="1" height="4" fill="#fff"/>
<rect x="413" y="335" width="1" height="4" fill="#fff"/>
<rect x="415" y="335" width="1" height="4" fill="#fff"/>
<rect x="418" y="335" width="1" height="4" fill="#fff"/>
<rect x="425" y="335" width="1" height="4" fill="#fff"/>
<rect x="428" y="335" width="1" height="4" fill="#fff"/>
<rect x="430" y="335" width="1" height="4" fill="#fff"/>
<rect x="433" y="335" width="1" height="4" fill="#fff"/>
<rect x="443" y="335" width="1" height="4" fill="#fff"/>
<rect x="446" y="335" width="1" height="4" fill="#fff"/>
<rect x="448" y="335" width="1" height="4" fill="#fff"/>
<rect x="451" y="335" width="1" height="4" fill="#fff"/>
<rect x="459" y="335" width="1" height="4" fill="#fff"/>
<rect x="462" y="335" width="1" height="4" fill="#fff"/>
<rect x="464" y="335" width="1" height="4" fill="#fff"/>
<rect x="467" y="335" width="1" height="4" fill="#fff"/>
<rect x="437" y="330" width="4" height="10" fill="#fff"/>
<rect x="436" y="339" width="6" height="2" fill="#fff"/>
<rect x="258.5" y="346.5" width="221" height="12" fill="#fff" stroke="#000" stroke-width="1"/>
<rect x="265" y="346" width="1" height="13" fill="#000"/>
<rect x="259" y="350" width="6" height="1" fill="#000"/>
<rect x="259" y="354" width="6" height="1" fill="#000"/>
<rect x="267" y="346" width="1" height="13" fill="#000"/>
<rect x="268" y="347" width="8" height="10" fill="#000"/>
<rect x="269" y="351" width="6" height="5" fill="#fff"/>
<rect x="269" y="348" width="3" height="3" fill="#fff"/>
<rect x="273" y="347" width="3" height="2" fill="#fff"/>
<rect x="278" y="348" width="183" height="9" fill="#000"/>
<rect x="268" y="357" width="202" height="1" fill="#fff"/>
<rect x="462" y="347" width="8" height="10" fill="#000"/>
<rect x="463" y="351" width="6" height="5" fill="#fff"/>
<rect x="466" y="348" width="3" height="3" fill="#fff"/>
<rect x="462" y="347" width="3" height="2" fill="#fff"/>
<rect x="470" y="346" width="1" height="13" fill="#000"/>
<rect x="472" y="346" width="1" height="13" fill="#000"/>
<rect x="473" y="350" width="6" height="1" fill="#000"/>
<rect x="473" y="354" width="6" height="1" fill="#000"/>
<rect x="279" y="352" width="1" height="4" fill="#fff"/>
<rect x="282" y="352" width="1" height="4" fill="#fff"/>
<rect x="284" y="352" width="1" height="4" fill="#fff"/>
<rect x="290" y="352" width="1" height="4" fill="#fff"/>
<rect x="293" y="352" width="1" height="4" fill="#fff"/>
<rect x="295" y="352" width="1" height="4" fill="#fff"/>
<rect x="298" y="352" width="1" height="4" fill="#fff"/>
<rect x="305" y="352" width="1" height="4" fill="#fff"/>
<rect x="308" y="352" width="1" height="4" fill="#fff"/>
<rect x="310" y="352" width="1" height="4" fill="#fff"/>
<rect x="313" y="352" width="1" height="4" fill="#fff"/>
<rect x="315" y="352" width="1" height="4" fill="#fff"/>
<rect x="322" y="352" width="1" height="4" fill="#fff"/>
<rect x="325" y="352" width="1" height="4" fill="#fff"/>
<rect x="327" y="352" width="1" height="4" fill="#fff"/>
<rect x="330" y="352" width="1" height="4" fill="#fff"/>
<rect x="339" y="352" width="1" height="4" fill="#fff"/>
<rect x="342" y="352" width="1" height="4" fill="#fff"/>
<rect x="344" y="352" width="1" height="4" fill="#fff"/>
<rect x="394" y="352" width="1" height="4" fill="#fff"/>
<rect x="397" y="352" width="1" height="4" fill="#fff"/>
<rect x="407" y="352" width="1" height="4" fill="#fff"/>
<rect x="410" y="352" width="1" height="4" fill="#fff"/>
<rect x="412" y="352" width="1" height="4" fill="#fff"/>
<rect x="418" y="352" width="1" height="4" fill="#fff"/>
<rect x="421" y="352" width="1" height="4" fill="#fff"/>
<rect x="423" y="352" width="1" height="4" fill="#fff"/>
<rect x="426" y="352" width="1" height="4" fill="#fff"/>
<rect x="428" y="352" width="1" height="4" fill="#fff"/>
<rect x="435" y="352" width="1" height="4" fill="#fff"/>
<rect x="438" y="352" width="1" height="4" fill="#fff"/>
<rect x="440" y="352" width="1" height="4" fill="#fff"/>
<rect x="443" y="352" width="1" height="4" fill="#fff"/>
<rect x="450" y="352" width="1" height="4" fill="#fff"/>
<rect x="453" y="352" width="1" height="4" fill="#fff"/>
<rect x="455" y="352" width="1" height="4" fill="#fff"/>
<rect x="258.5" y="360.5" width="221" height="11" fill="#fff" stroke="#000" stroke-width="1"/>
<rect x="265" y="360" width="1" height="12" fill="#000"/>
<rect x="259" y="364" width="6" height="1" fill="#000"/>
<rect x="259" y="368" width="6" height="1" fill="#000"/>
<rect x="267" y="360" width="1" height="12" fill="#000"/>
<rect x="268" y="361" width="8" height="9" fill="#000"/>
<rect x="269" y="365" width="6" height="4" fill="#fff"/>
<rect x="269" y="362" width="3" height="3" fill="#fff"/>
<rect x="273" y="361" width="3" height="2" fill="#fff"/>
<rect x="278" y="362" width="183" height="8" fill="#000"/>
<rect x="268" y="370" width="202" height="1" fill="#fff"/>
<rect x="462" y="361" width="8" height="9" fill="#000"/>
<rect x="463" y="365" width="6" height="4" fill="#fff"/>
<rect x="466" y="362" width="3" height="3" fill="#fff"/>
<rect x="462" y="361" width="3" height="2" fill="#fff"/>
<rect x="470" y="360" width="1" height="12" fill="#000"/>
<rect x="472" y="360" width="1" height="12" fill="#000"/>
<rect x="473" y="364" width="6" height="1" fill="#000"/>
<rect x="473" y="368" width="6" height="1" fill="#000"/>
<rect x="279" y="366" width="1" height="4" fill="#fff"/>
<rect x="282" y="366" width="1" height="4" fill="#fff"/>
<rect x="284" y="366" width="1" height="4" fill="#fff"/>
<rect x="290" y="366" width="1" height="4" fill="#fff"/>
<rect x="293" y="366" width="1" height="4" fill="#fff"/>
<rect x="295" y="366" width="1" height="4" fill="#fff"/>
<rect x="298" y="366" width="1" height="4" fill="#fff"/>
<rect x="305" y="366" width="1" height="4" fill="#fff"/>
<rect x="308" y="366" width="1" height="4" fill="#fff"/>
<rect x="310" y="366" width="1" height="4" fill="#fff"/>
<rect x="313" y="366" width="1" height="4" fill="#fff"/>
<rect x="315" y="366" width="1" height="4" fill="#fff"/>
<rect x="322" y="366" width="1" height="4" fill="#fff"/>
<rect x="325" y="366" width="1" height="4" fill="#fff"/>
<rect x="327" y="366" width="1" height="4" fill="#fff"/>
<rect x="330" y="366" width="1" height="4" fill="#fff"/>
<rect x="339" y="366" width="1" height="4" fill="#fff"/>
<rect x="342" y="366" width="1" height="4" fill="#fff"/>
<rect x="344" y="366" width="1" height="4" fill="#fff"/>
<rect x="394" y="366" width="1" height="4" fill="#fff"/>
<rect x="397" y="366" width="1" height="4" fill="#fff"/>
<rect x="407" y="366" width="1" height="4" fill="#fff"/>
<rect x="410" y="366" width="1" height="4" fill="#fff"/>
<rect x="412" y="366" width="1" height="4" fill="#fff"/>
<rect x="418" y="366" width="1" height="4" fill="#fff"/>
<rect x="421" y="366" width="1" height="4" fill="#fff"/>
<rect x="423" y="366" width="1" height="4" fill="#fff"/>
<rect x="426" y="366" width="1" height="4" fill="#fff"/>
<rect x="428" y="366" width="1" height="4" fill="#fff"/>
<rect x="435" y="366" width="1" height="4" fill="#fff"/>
<rect x="438" y="366" width="1" height="4" fill="#fff"/>
<rect x="440" y="366" width="1" height="4" fill="#fff"/>
<rect x="443" y="366" width="1" height="4" fill="#fff"/>
<rect x="450" y="366" width="1" height="4" fill="#fff"/>
<rect x="453" y="366" width="1" height="4" fill="#fff"/>
<rect x="455" y="366" width="1" height="4" fill="#fff"/>
<rect x="258.5" y="374.5" width="221" height="11" fill="#fff" stroke="#000" stroke-width="1"/>
<rect x="265" y="374" width="1" height="12" fill="#000"/>
<rect x="259" y="378" width="6" height="1" fill="#000"/>
<rect x="259" y="382" width="6" height="1" fill="#000"/>
<rect x="267" y="374" width="1" height="12" fill="#000"/>
<rect x="268" y="375" width="8" height="9" fill="#000"/>
<rect x="269" y="379" width="6" height="4" fill="#fff"/>
<rect x="269" y="376" width="3" height="3" fill="#fff"/>
<rect x="273" y="375" width="3" height="2" fill="#fff"/>
<rect x="278" y="376" width="183" height="8" fill="#000"/>
<rect x="268" y="384" width="202" height="1" fill="#fff"/>
<rect x="462" y="375" width="8" height="9" fill="#000"/>
<rect x="463" y="379" width="6" height="4" fill="#fff"/>
<rect x="466" y="376" width="3" height="3" fill="#fff"/>
<rect x="462" y="375" width="3" height="2" fill="#fff"/>
<rect x="470" y="374" width="1" height="12" fill="#000"/>
<rect x="472" y="374" width="1" height="12" fill="#000"/>
<rect x="473" y="378" width="6" height="1" fill="#000"/>
<rect x="473" y="382" width="6" height="1" fill="#000"/>
<rect x="279" y="380" width="1" height="4" fill="#fff"/>
<rect x="282" y="380" width="1" height="4" fill="#fff"/>
<rect x="284" y="380" width="1" height="4" fill="#fff"/>
<rect x="290" y="380" width="1" height="4" fill="#fff"/>
<rect x="293" y="380" width="1" height="4" fill="#fff"/>
<rect x="295" y="380" width="1" height="4" fill="#fff"/>
<rect x="298" y="380" width="1" height="4" fill="#fff"/>
<rect x="305" y="380" width="1" height="4" fill="#fff"/>
<rect x="308" y="380" width="1" height="4" fill="#fff"/>
<rect x="310" y="380" width="1" height="4" fill="#fff"/>
<rect x="313" y="380" width="1" height="4" fill="#fff"/>
<rect x="315" y="380" width="1" height="4" fill="#fff"/>
<rect x="322" y="380" width="1" height="4" fill="#fff"/>
<rect x="325" y="380" width="1" height="4" fill="#fff"/>
<rect x="327" y="380" width="1" height="4" fill="#fff"/>
<rect x="330" y="380" width="1" height="4" fill="#fff"/>
<rect x="339" y="380" width="1" height="4" fill="#fff"/>
<rect x="342" y="380" width="1" height="4" fill="#fff"/>
<rect x="344" y="380" width="1" height="4" fill="#fff"/>
<rect x="394" y="380" width="1" height="4" fill="#fff"/>
<rect x="397" y="380" width="1" height="4" fill="#fff"/>
<rect x="407" y="380" width="1" height="4" fill="#fff"/>
<rect x="410" y="380" width="1" height="4" fill="#fff"/>
<rect x="412" y="380" width="1" height="4" fill="#fff"/>
<rect x="418" y="380" width="1" height="4" fill="#fff"/>
<rect x="421" y="380" width="1" height="4" fill="#fff"/>
<rect x="423" y="380" width="1" height="4" fill="#fff"/>
<rect x="426" y="380" width="1" height="4" fill="#fff"/>
<rect x="428" y="380" width="1" height="4" fill="#fff"/>
<rect x="435" y="380" width="1" height="4" fill="#fff"/>
<rect x="438" y="380" width="1" height="4" fill="#fff"/>
<rect x="440" y="380" width="1" height="4" fill="#fff"/>
<rect x="443" y="380" width="1" height="4" fill="#fff"/>
<rect x="450" y="380" width="1" height="4" fill="#fff"/>
<rect x="453" y="380" width="1" height="4" fill="#fff"/>
<rect x="455" y="380" width="1" height="4" fill="#fff"/>
<rect x="258.5" y="387.5" width="221" height="12" fill="#fff" stroke="#000" stroke-width="1"/>
<rect x="265" y="387" width="1" height="13" fill="#000"/>
<rect x="259" y="391" width="6" height="1" fill="#000"/>
<rect x="259" y="395" width="6" height="1" fill="#000"/>
<rect x="267" y="387" width="1" height="13" fill="#000"/>
<rect x="268" y="388" width="8" height="10" fill="#000"/>
<rect x="269" y="392" width="6" height="5" fill="#fff"/>
<rect x="269" y="389" width="3" height="3" fill="#fff"/>
<rect x="273" y="388" width="3" height="2" fill="#fff"/>
<rect x="278" y="389" width="183" height="9" fill="#000"/>
<rect x="268" y="398" width="202" height="1" fill="#fff"/>
<rect x="462" y="388" width="8" height="10" fill="#000"/>
<rect x="463" y="392" width="6" height="5" fill="#fff"/>
<rect x="466" y="389" width="3" height="3" fill="#fff"/>
<rect x="462" y="388" width="3" height="2" fill="#fff"/>
<rect x="470" y="387" width="1" height="13" fill="#000"/>
<rect x="472" y="387" width="1" height="13" fill="#000"/>
<rect x="473" y="391" width="6" height="1" fill="#000"/>
<rect x="473" y="395" width="6" height="1" fill="#000"/>
<rect x="279" y="393" width="1" height="4" fill="#fff"/>
<rect x="282" y="393" width="1" height="4" fill="#fff"/>
<rect x="284" y="393" width="1" height="4" fill="#fff"/>
<rect x="290" y="393" width="1" height="4" fill="#fff"/>
<rect x="293" y="393" width="1" height="4" fill="#fff"/>
<rect x="295" y="393" width="1" height="4" fill="#fff"/>
<rect x="298" y="393" width="1" height="4" fill="#fff"/>
<rect x="305" y="393" width="1" height="4" fill="#fff"/>
<rect x="308" y="393" width="1" height="4" fill="#fff"/>
<rect x="310" y="393" width="1" height="4" fill="#fff"/>
<rect x="313" y="393" width="1" height="4" fill="#fff"/>
<rect x="315" y="393" width="1" height="4" fill="#fff"/>
<rect x="322" y="393" width="1" height="4" fill="#fff"/>
<rect x="325" y="393" width="1" height="4" fill="#fff"/>
<rect x="327" y="393" width="1" height="4" fill="#fff"/>
<rect x="330" y="393" width="1" height="4" fill="#fff"/>
<rect x="339" y="393" width="1" height="4" fill="#fff"/>
<rect x="342" y="393" width="1" height="4" fill="#fff"/>
<rect x="344" y="393" width="1" height="4" fill="#fff"/>
<rect x="394" y="393" width="1" height="4" fill="#fff"/>
<rect x="397" y="393" width="1" height="4" fill="#fff"/>
<rect x="407" y="393" width="1" height="4" fill="#fff"/>
<rect x="410" y="393" width="1" height="4" fill="#fff"/>
<rect x="412" y="393" width="1" height="4" fill="#fff"/>
<rect x="418" y="393" width="1" height="4" fill="#fff"/>
<rect x="421" y="393" width="1" height="4" fill="#fff"/>
<rect x="423" y="393" width="1" height="4" fill="#fff"/>
<rect x="426" y="393" width="1" height="4" fill="#fff"/>
<rect x="428" y="393" width="1" height="4" fill="#fff"/>
<rect x="435" y="393" width="1" height="4" fill="#fff"/>
<rect x="438" y="393" width="1" height="4" fill="#fff"/>
<rect x="440" y="393" width="1" height="4" fill="#fff"/>
<rect x="443" y="393" width="1" height="4" fill="#fff"/>
<rect x="450" y="393" width="1" height="4" fill="#fff"/>
<rect x="453" y="393" width="1" height="4" fill="#fff"/>
<rect x="455" y="393" width="1" height="4" fill="#fff"/>
<rect x="366" y="348" width="7" height="4" fill="#fff"/>
<rect x="366" y="367" width="7" height="5" fill="#fff"/>
<rect x="366" y="375" width="7" height="4" fill="#fff"/>
<rect x="366" y="393" width="7" height="6" fill="#fff"/>
<rect x="347" y="354" width="44" height="11" fill="#fff"/>
<text x="369" y="363.7" font-size="11" text-anchor="middle" fill="#000" stroke="#000" stroke-width="0.25" font-weight="normal" >BANK 1</text>
<rect x="347" y="380.5" width="44" height="11.5" fill="#fff"/>
<text x="369" y="390.5" font-size="11" text-anchor="middle" fill="#000" stroke="#000" stroke-width="0.25" font-weight="normal" >BANK 0</text>
<rect x="483" y="347" width="11" height="63" fill="#000"/>
<rect x="484" y="349" width="9" height="1" fill="#fff"/>
<rect x="484" y="353" width="9" height="1" fill="#fff"/>
<rect x="484" y="358" width="9" height="1" fill="#fff"/>
<rect x="484" y="363" width="9" height="1" fill="#fff"/>
<rect x="484" y="367" width="9" height="1" fill="#fff"/>
<rect x="484" y="372" width="9" height="1" fill="#fff"/>
<rect x="484" y="377" width="9" height="1" fill="#fff"/>
<rect x="484" y="382" width="9" height="1" fill="#fff"/>
<rect x="484" y="386" width="9" height="1" fill="#fff"/>
<rect x="484" y="391" width="9" height="1" fill="#fff"/>
<rect x="484" y="396" width="9" height="1" fill="#fff"/>
<rect x="484" y="400" width="9" height="1" fill="#fff"/>
<rect x="484" y="405" width="9" height="1" fill="#fff"/>
<rect x="488" y="348" width="1" height="57" fill="#fff"/>
<rect x="490" y="403" width="2" height="2" fill="#fff"/>
<rect x="499" y="357" width="10" height="25" fill="#000"/>
<rect x="504" y="358" width="1" height="21" fill="#fff"/>
<rect x="500" y="361" width="8" height="1" fill="#fff"/>
<rect x="500" y="366" width="8" height="1" fill="#fff"/>
<rect x="500" y="370" width="8" height="1" fill="#fff"/>
<rect x="500" y="375" width="8" height="1" fill="#fff"/>
<rect x="506" y="378" width="2" height="2" fill="#fff"/>
<rect x="499" y="386" width="10" height="25" fill="#000"/>
<rect x="504" y="387" width="1" height="21" fill="#fff"/>
<rect x="500" y="390" width="8" height="1" fill="#fff"/>
<rect x="500" y="395" width="8" height="1" fill="#fff"/>
<rect x="500" y="399" width="8" height="1" fill="#fff"/>
<rect x="500" y="404" width="8" height="1" fill="#fff"/>
<rect x="506" y="407" width="2" height="2" fill="#fff"/>
<rect x="514.5" y="334.5" width="19" height="89" fill="#fff" stroke="#000" stroke-width="1"/>
<line x1="526.5" y1="335" x2="526.5" y2="423" stroke="#000" stroke-width="1" />
<line x1="529.5" y1="335" x2="529.5" y2="423" stroke="#000" stroke-width="1" />
<rect x="517.5" y="339.5" width="5" height="4" fill="#fff" stroke="#000" stroke-width="1"/>
<line x1="523" y1="342.5" x2="529" y2="342.5" stroke="#000" stroke-width="1" />
<rect x="517.5" y="347.2" width="5" height="4.0" fill="#fff" stroke="#000" stroke-width="1"/>
<line x1="523" y1="350.2" x2="529" y2="350.2" stroke="#000" stroke-width="1" />
<rect x="517.5" y="354.9" width="5" height="4.0" fill="#fff" stroke="#000" stroke-width="1"/>
<line x1="523" y1="357.9" x2="529" y2="357.9" stroke="#000" stroke-width="1" />
<rect x="517.5" y="362.6" width="5" height="4.0" fill="#fff" stroke="#000" stroke-width="1"/>
<line x1="523" y1="365.6" x2="529" y2="365.6" stroke="#000" stroke-width="1" />
<rect x="517.5" y="370.3" width="5" height="4.0" fill="#fff" stroke="#000" stroke-width="1"/>
<line x1="523" y1="373.3" x2="529" y2="373.3" stroke="#000" stroke-width="1" />
<rect x="517.5" y="378.0" width="5" height="4.0" fill="#fff" stroke="#000" stroke-width="1"/>
<line x1="523" y1="381.0" x2="529" y2="381.0" stroke="#000" stroke-width="1" />
<rect x="517.5" y="385.7" width="5" height="4.0" fill="#fff" stroke="#000" stroke-width="1"/>
<line x1="523" y1="388.7" x2="529" y2="388.7" stroke="#000" stroke-width="1" />
<rect x="517.5" y="393.4" width="5" height="4.0" fill="#fff" stroke="#000" stroke-width="1"/>
<line x1="523" y1="396.4" x2="529" y2="396.4" stroke="#000" stroke-width="1" />
<rect x="517.5" y="401.1" width="5" height="4.0" fill="#fff" stroke="#000" stroke-width="1"/>
<line x1="523" y1="404.1" x2="529" y2="404.1" stroke="#000" stroke-width="1" />
<rect x="517.5" y="408.8" width="5" height="4.0" fill="#fff" stroke="#000" stroke-width="1"/>
<line x1="523" y1="411.8" x2="529" y2="411.8" stroke="#000" stroke-width="1" />
<rect x="517.5" y="416.5" width="5" height="4.0" fill="#fff" stroke="#000" stroke-width="1"/>
<line x1="523" y1="419.5" x2="529" y2="419.5" stroke="#000" stroke-width="1" />
<line x1="532.5" y1="335" x2="532.5" y2="423" stroke="#000" stroke-width="1" />
<rect x="529" y="338" width="1" height="2" fill="#fff"/>
<rect x="529" y="346" width="1" height="2" fill="#fff"/>
<rect x="529" y="354" width="1" height="2" fill="#fff"/>
<rect x="529" y="362" width="1" height="2" fill="#fff"/>
<rect x="529" y="370" width="1" height="2" fill="#fff"/>
<rect x="529" y="378" width="1" height="2" fill="#fff"/>
<rect x="529" y="386" width="1" height="2" fill="#fff"/>
<rect x="529" y="394" width="1" height="2" fill="#fff"/>
<rect x="529" y="402" width="1" height="2" fill="#fff"/>
<rect x="529" y="410" width="1" height="2" fill="#fff"/>
<rect x="529" y="418" width="1" height="2" fill="#fff"/>
<polygon points="544,364 563,364 563,361 566,361 566,359 569,359 569,400 566,400 566,397 563,397 563,394 547,394 547,391 544,391" fill="#000" />
<rect x="540.5" y="371.5" width="3" height="5" fill="#fff" stroke="#000" stroke-width="1"/>
<rect x="540.5" y="380.5" width="3" height="6" fill="#fff" stroke="#000" stroke-width="1"/>
<rect x="146" y="261" width="11" height="6" fill="#000"/>
<rect x="151" y="262" width="1" height="4" fill="#fff"/>
<rect x="154" y="262" width="1" height="4" fill="#fff"/>
<rect x="166" y="261" width="11" height="6" fill="#000"/>
<rect x="171" y="262" width="1" height="4" fill="#fff"/>
<rect x="174" y="262" width="1" height="4" fill="#fff"/>
<polygon points="95,291 130,291 133,294 133,345 130,348 95,348 92,345 92,294" fill="#000" />
<rect x="97" y="296" width="31" height="48" fill="#fff"/>
<rect x="92" y="298" width="3" height="1" fill="#fff"/>
<rect x="130" y="299" width="3" height="1" fill="#fff"/>
<rect x="92" y="303" width="3" height="1" fill="#fff"/>
<rect x="130" y="304" width="3" height="1" fill="#fff"/>
<rect x="92" y="308" width="3" height="1" fill="#fff"/>
<rect x="130" y="309" width="3" height="1" fill="#fff"/>
<rect x="92" y="328" width="3" height="1" fill="#fff"/>
<rect x="130" y="329" width="3" height="1" fill="#fff"/>
<rect x="92" y="333" width="3" height="1" fill="#fff"/>
<rect x="130" y="334" width="3" height="1" fill="#fff"/>
<rect x="92" y="338" width="3" height="1" fill="#fff"/>
<rect x="130" y="339" width="3" height="1" fill="#fff"/>
<rect x="92" y="343" width="3" height="1" fill="#fff"/>
<rect x="130" y="344" width="3" height="1" fill="#fff"/>
<rect x="99" y="291" width="1" height="2" fill="#fff"/>
<rect x="100" y="346" width="1" height="2" fill="#fff"/>
<rect x="103" y="291" width="1" height="2" fill="#fff"/>
<rect x="104" y="346" width="1" height="2" fill="#fff"/>
<rect x="107" y="291" width="1" height="2" fill="#fff"/>
<rect x="108" y="346" width="1" height="2" fill="#fff"/>
<rect x="111" y="291" width="1" height="2" fill="#fff"/>
<rect x="112" y="346" width="1" height="2" fill="#fff"/>
<rect x="115" y="291" width="1" height="2" fill="#fff"/>
<rect x="116" y="346" width="1" height="2" fill="#fff"/>
<rect x="119" y="291" width="1" height="2" fill="#fff"/>
<rect x="120" y="346" width="1" height="2" fill="#fff"/>
<rect x="123" y="291" width="1" height="2" fill="#fff"/>
<rect x="124" y="346" width="1" height="2" fill="#fff"/>
<rect x="88" y="313" width="48" height="13" fill="#fff"/>
<g class="aa">
<rect x="88.5" y="313.5" width="47" height="12.5" rx="1.5" fill="#fff" stroke="#000" stroke-width="1.3"/>
<text x="112.3" y="324" font-size="11" text-anchor="middle" fill="#000" stroke="#000" stroke-width="0.25" font-weight="normal" >BANK 0</text>
<path d="M89.5,343.5 Q89.5,349.3 93,349.3 L108.5,349.3 L112.5,353.5 L116.5,349.3 L132,349.3 Q135.5,349.3 136,344.5" fill="none" stroke="#000" stroke-width="1"/>
</g>
<polygon points="99,375 145,375 148,378 148,406 145,409 99,409 96,406 96,378" fill="#000" />
<rect x="105" y="375" width="1" height="2" fill="#fff"/>
<rect x="105" y="407" width="1" height="2" fill="#fff"/>
<rect x="113" y="375" width="1" height="2" fill="#fff"/>
<rect x="113" y="407" width="1" height="2" fill="#fff"/>
<rect x="122" y="375" width="1" height="2" fill="#fff"/>
<rect x="122" y="407" width="1" height="2" fill="#fff"/>
<rect x="131" y="375" width="1" height="2" fill="#fff"/>
<rect x="131" y="407" width="1" height="2" fill="#fff"/>
<rect x="139" y="375" width="1" height="2" fill="#fff"/>
<rect x="139" y="407" width="1" height="2" fill="#fff"/>
<rect x="96" y="386" width="2" height="1" fill="#fff"/>
<rect x="146" y="386" width="2" height="1" fill="#fff"/>
<rect x="96" y="398" width="2" height="1" fill="#fff"/>
<rect x="146" y="398" width="2" height="1" fill="#fff"/>
<polygon points="160,375 206,375 209,378 209,406 206,409 160,409 157,406 157,378" fill="#000" />
<rect x="166" y="375" width="1" height="2" fill="#fff"/>
<rect x="166" y="407" width="1" height="2" fill="#fff"/>
<rect x="174" y="375" width="1" height="2" fill="#fff"/>
<rect x="174" y="407" width="1" height="2" fill="#fff"/>
<rect x="183" y="375" width="1" height="2" fill="#fff"/>
<rect x="183" y="407" width="1" height="2" fill="#fff"/>
<rect x="192" y="375" width="1" height="2" fill="#fff"/>
<rect x="192" y="407" width="1" height="2" fill="#fff"/>
<rect x="200" y="375" width="1" height="2" fill="#fff"/>
<rect x="200" y="407" width="1" height="2" fill="#fff"/>
<rect x="157" y="386" width="2" height="1" fill="#fff"/>
<rect x="207" y="386" width="2" height="1" fill="#fff"/>
<rect x="157" y="398" width="2" height="1" fill="#fff"/>
<rect x="207" y="398" width="2" height="1" fill="#fff"/>
<g class="aa">
<polygon points="54.72,31.89 58.87,30.23 66.88,30.9 67.12,28.1 59.1,27.44 55.28,25.11" fill="#000" />
</g>
<g class="aa">
<rect x="26.1" y="20.6" width="29.799999999999997" height="15.299999999999997" rx="2.6" ry="2.6" fill="#000"/>
<rect x="27.8" y="22.3" width="25.499999999999996" height="10.999999999999998" rx="1.6" ry="1.6" fill="#fff"/>
<text x="40.55" y="31.74" font-size="11" text-anchor="middle" fill="#000" stroke="#000" stroke-width="0.25" font-weight="normal" >J14</text>
</g>
<g class="aa">
<polygon points="32.0,46.9 36.0,44.9 44.0,44.9 44.0,42.1 36.0,42.1 32.0,40.1" fill="#000" />
</g>
<g class="aa">
<rect x="3.6" y="35.6" width="29.799999999999997" height="16.799999999999997" rx="2.6" ry="2.6" fill="#000"/>
<rect x="5.3" y="37.300000000000004" width="25.499999999999996" height="12.499999999999998" rx="1.6" ry="1.6" fill="#fff"/>
<text x="18.05" y="47.49" font-size="11" text-anchor="middle" fill="#000" stroke="#000" stroke-width="0.25" font-weight="normal" >J15</text>
</g>
<g class="aa">
<polygon points="31.0,99.9 35.0,97.9 43.0,97.9 43.0,95.1 35.0,95.1 31.0,93.1" fill="#000" />
</g>
<g class="aa">
<rect x="2.6" y="88.89999999999999" width="29.799999999999997" height="16.500000000000014" rx="2.6" ry="2.6" fill="#000"/>
<rect x="4.3" y="90.6" width="25.499999999999996" height="12.200000000000015" rx="1.6" ry="1.6" fill="#fff"/>
<text x="17.05" y="100.64" font-size="11" text-anchor="middle" fill="#000" stroke="#000" stroke-width="0.25" font-weight="normal" >J12</text>
</g>
<g class="aa">
<polygon points="30.5,192.9 34.5,190.9 43.0,190.9 43.0,188.1 34.5,188.1 30.5,186.1" fill="#000" />
</g>
<g class="aa">
<rect x="1.9" y="181.9" width="30.5" height="15.5" rx="2.6" ry="2.6" fill="#000"/>
<rect x="3.5999999999999996" y="183.6" width="26.2" height="11.200000000000001" rx="1.6" ry="1.6" fill="#fff"/>
<text x="16.7" y="193.14" font-size="11" text-anchor="middle" fill="#000" stroke="#000" stroke-width="0.25" font-weight="normal" >J10</text>
</g>
<g class="aa">
<polygon points="81.5,184.1 77.5,186.1 69.0,186.1 69.0,188.9 77.5,188.9 81.5,190.9" fill="#000" />
</g>
<g class="aa">
<rect x="80.6" y="180.9" width="30.30000000000001" height="15.0" rx="2.6" ry="2.6" fill="#000"/>
<rect x="82.3" y="182.6" width="26.00000000000001" height="10.700000000000001" rx="1.6" ry="1.6" fill="#fff"/>
<text x="95.3" y="191.89" font-size="11" text-anchor="middle" fill="#000" stroke="#000" stroke-width="0.25" font-weight="normal" >J11</text>
</g>
<g class="aa">
<polygon points="136.1,16.0 138.3,20.0 138.3,30.0 140.7,30.0 140.7,20.0 142.9,16.0" fill="#000" />
</g>
<g class="aa">
<rect x="126.1" y="2.1" width="28.30000000000001" height="15.299999999999999" rx="2.6" ry="2.6" fill="#000"/>
<rect x="127.8" y="3.8" width="24.00000000000001" height="11.0" rx="1.6" ry="1.6" fill="#fff"/>
<text x="139.8" y="13.24" font-size="11" text-anchor="middle" fill="#000" stroke="#000" stroke-width="0.25" font-weight="normal" textLength="21.5" lengthAdjust="spacingAndGlyphs">SW1</text>
</g>
<g class="aa">
<polygon points="187.1,16.5 189.3,20.5 189.3,30.0 191.7,30.0 191.7,20.5 193.9,16.5" fill="#000" />
</g>
<g class="aa">
<rect x="177.1" y="2.6" width="27.80000000000001" height="15.299999999999999" rx="2.6" ry="2.6" fill="#000"/>
<rect x="178.79999999999998" y="4.3" width="23.50000000000001" height="11.0" rx="1.6" ry="1.6" fill="#fff"/>
<text x="190.55" y="13.74" font-size="11" text-anchor="middle" fill="#000" stroke="#000" stroke-width="0.25" font-weight="normal" textLength="21.5" lengthAdjust="spacingAndGlyphs">SW2</text>
</g>
<g class="aa">
<rect x="137.6" y="187.6" width="29.30000000000001" height="16.80000000000001" rx="2.6" ry="2.6" fill="#000"/>
<rect x="139.29999999999998" y="189.29999999999998" width="25.00000000000001" height="12.500000000000012" rx="1.6" ry="1.6" fill="#fff"/>
<text x="151.8" y="199.49" font-size="11" text-anchor="middle" fill="#000" stroke="#000" stroke-width="0.25" font-weight="normal" textLength="22">CPU</text>
</g>
<g class="aa">
<polygon points="238.4,143.58 236.29,139.53 236.5,130.03 234.1,129.97 233.89,139.47 231.6,143.42" fill="#000" />
</g>
<g class="aa">
<rect x="219.6" y="142.1" width="28.30000000000001" height="14.800000000000011" rx="2.6" ry="2.6" fill="#000"/>
<rect x="221.29999999999998" y="143.79999999999998" width="24.00000000000001" height="10.500000000000012" rx="1.6" ry="1.6" fill="#fff"/>
<text x="233.3" y="152.99" font-size="11" text-anchor="middle" fill="#000" stroke="#000" stroke-width="0.25" font-weight="normal" >J13</text>
</g>
<g class="aa">
<polygon points="562.23,258.23 560.46,262.12 557.29,265.29 558.71,266.71 561.88,263.54 565.77,261.77" fill="#000" />
</g>
<g class="aa">
<rect x="561.6" y="248.1" width="21.299999999999955" height="14.799999999999983" rx="2.6" ry="2.6" fill="#000"/>
<rect x="563.3000000000001" y="249.79999999999998" width="16.999999999999954" height="10.499999999999984" rx="1.6" ry="1.6" fill="#fff"/>
<text x="571.8" y="258.99" font-size="11" text-anchor="middle" fill="#000" stroke="#000" stroke-width="0.25" font-weight="normal" >J9</text>
</g>
<g class="aa">
<polygon points="570.5,272.6 566.5,274.8 558.0,274.8 558.0,277.2 566.5,277.2 570.5,279.4" fill="#000" />
</g>
<g class="aa">
<rect x="569.6" y="269.1" width="28.799999999999955" height="14.799999999999955" rx="2.6" ry="2.6" fill="#000"/>
<rect x="571.3000000000001" y="270.8" width="24.499999999999954" height="10.499999999999956" rx="1.6" ry="1.6" fill="#fff"/>
<text x="583.55" y="279.99" font-size="11" text-anchor="middle" fill="#000" stroke="#000" stroke-width="0.25" font-weight="normal" textLength="19" lengthAdjust="spacingAndGlyphs">J9A</text>
</g>
<g class="aa">
<polygon points="573.5,314.1 569.5,316.3 562.0,316.3 562.0,318.7 569.5,318.7 573.5,320.9" fill="#000" />
</g>
<g class="aa">
<rect x="572.6" y="311.1" width="21.299999999999955" height="14.799999999999955" rx="2.6" ry="2.6" fill="#000"/>
<rect x="574.3000000000001" y="312.8" width="16.999999999999954" height="10.499999999999956" rx="1.6" ry="1.6" fill="#fff"/>
<text x="582.8" y="321.99" font-size="11" text-anchor="middle" fill="#000" stroke="#000" stroke-width="0.25" font-weight="normal" >J8</text>
</g>
<g class="aa">
<rect x="338" y="312" width="46" height="14" rx="2.5" ry="2.5" fill="#000"/>
<rect x="339.2" y="313.2" width="43.199999999999996" height="11.200000000000001" rx="1.5" ry="1.5" fill="#fff"/>
<text x="360.8" y="322.74" font-size="11" text-anchor="middle" fill="#000" stroke="#000" stroke-width="0.25" font-weight="normal" >BANK 3</text>
</g>
<g class="aa">
<rect x="338" y="328.7" width="46" height="14.300000000000011" rx="2.5" ry="2.5" fill="#000"/>
<rect x="339.2" y="329.9" width="43.199999999999996" height="11.500000000000012" rx="1.5" ry="1.5" fill="#fff"/>
<text x="360.8" y="339.59" font-size="11" text-anchor="middle" fill="#000" stroke="#000" stroke-width="0.25" font-weight="normal" >BANK 2</text>
</g>
<g class="aa">
<polygon points="484.9,418.63 486.21,414.48 489.61,410.52 488.39,409.48 485.0,413.44 481.1,415.37" fill="#000" />
</g>
<g class="aa">
<rect x="464.1" y="413.90000000000003" width="20.299999999999955" height="16.799999999999955" rx="2.6" ry="2.6" fill="#000"/>
<rect x="465.8" y="415.6" width="15.999999999999956" height="12.499999999999956" rx="1.6" ry="1.6" fill="#fff"/>
<text x="473.8" y="425.79" font-size="11" text-anchor="middle" fill="#000" stroke="#000" stroke-width="0.25" font-weight="normal" >J7</text>
</g>
<g class="aa">
<polygon points="522.5,361.1 518.5,363.3 509.0,363.3 509.0,365.7 518.5,365.7 522.5,367.9" fill="#000" />
</g>
<g class="aa">
<rect x="522" y="357" width="19" height="13.199999999999989" rx="0.8" ry="0.8" fill="#000"/>
<rect x="523.7" y="358.7" width="15.3" height="9.49999999999999" rx="-0.19999999999999996" ry="-0.19999999999999996" fill="#fff"/>
<text x="531.35" y="367.21" font-size="10.5" text-anchor="middle" fill="#000" stroke="#000" stroke-width="0.25" font-weight="normal" >J6</text>
</g>
<g class="aa">
<polygon points="522.5,397.0 518.5,399.2 509.0,399.2 509.0,401.6 518.5,401.6 522.5,403.8" fill="#000" />
</g>
<g class="aa">
<rect x="522" y="392" width="20.200000000000045" height="14.300000000000011" rx="0.8" ry="0.8" fill="#000"/>
<rect x="523.7" y="393.7" width="16.200000000000045" height="10.300000000000011" rx="-0.19999999999999996" ry="-0.19999999999999996" fill="#fff"/>
<text x="531.8" y="402.61" font-size="10.5" text-anchor="middle" fill="#000" stroke="#000" stroke-width="0.25" font-weight="normal" >J5</text>
</g>
<g class="aa">
<polygon points="188.5,260.6 184.5,262.8 177.0,262.8 177.0,265.2 184.5,265.2 188.5,267.4" fill="#000" />
</g>
<g class="aa">
<rect x="187.6" y="257.1" width="21.30000000000001" height="14.299999999999955" rx="2.6" ry="2.6" fill="#000"/>
<rect x="189.29999999999998" y="258.8" width="17.00000000000001" height="9.999999999999956" rx="1.6" ry="1.6" fill="#fff"/>
<text x="197.8" y="267.74" font-size="11" text-anchor="middle" fill="#000" stroke="#000" stroke-width="0.25" font-weight="normal" textLength="15" lengthAdjust="spacingAndGlyphs">W2</text>
</g>
<g class="aa">
<polygon points="160.71,272.18 156.63,270.68 151.55,265.92 150.45,267.08 155.53,271.85 157.29,275.82" fill="#000" />
</g>
<g class="aa">
<rect x="155.6" y="272.1" width="21.80000000000001" height="14.799999999999955" rx="2.6" ry="2.6" fill="#000"/>
<rect x="157.29999999999998" y="273.8" width="17.50000000000001" height="10.499999999999956" rx="1.6" ry="1.6" fill="#fff"/>
<text x="166.05" y="282.99" font-size="11" text-anchor="middle" fill="#000" stroke="#000" stroke-width="0.25" font-weight="normal" textLength="15" lengthAdjust="spacingAndGlyphs">W3</text>
</g>
<g class="aa">
<rect x="94.5" y="353" width="39.5" height="15.5" rx="3" ry="3" fill="#000"/>
<rect x="96.0" y="354.5" width="36.0" height="12.0" rx="2" ry="2" fill="#fff"/>
<text x="114.0" y="364.44" font-size="11" text-anchor="middle" fill="#000" stroke="#000" stroke-width="0.25" font-weight="normal" textLength="35.5" lengthAdjust="spacingAndGlyphs">CACHE</text>
</g>
<g class="aa">
<polygon points="51.86,30.04 59.48,28.87 52.16,26.46" fill="#fff" />
<polygon points="29.0,45.3 36.5,43.5 29.0,41.7" fill="#fff" />
<polygon points="28.0,98.3 35.5,96.5 28.0,94.7" fill="#fff" />
<polygon points="27.5,191.3 35.0,189.5 27.5,187.7" fill="#fff" />
<polygon points="84.5,185.7 77.0,187.5 84.5,189.3" fill="#fff" />
<polygon points="137.7,13.0 139.5,20.5 141.3,13.0" fill="#fff" />
<polygon points="188.7,13.5 190.5,21.0 192.3,13.5" fill="#fff" />
<polygon points="236.73,146.54 235.1,139.0 233.13,146.46" fill="#fff" />
<polygon points="564.85,256.61 560.82,263.18 567.39,259.15" fill="#fff" />
<polygon points="573.5,274.2 566.0,276.0 573.5,277.8" fill="#fff" />
<polygon points="576.5,315.7 569.0,317.5 576.5,319.3" fill="#fff" />
<polygon points="482.41,420.45 485.93,413.58 479.68,418.11" fill="#fff" />
<polygon points="525.5,362.7 518.0,364.5 525.5,366.3" fill="#fff" />
<polygon points="525.5,398.6 518.0,400.4 525.5,402.2" fill="#fff" />
<polygon points="191.5,262.2 184.0,264.0 191.5,265.8" fill="#fff" />
<polygon points="162.42,274.74 155.72,270.92 159.96,277.36" fill="#fff" />
</g>
</svg>
</body></html>
